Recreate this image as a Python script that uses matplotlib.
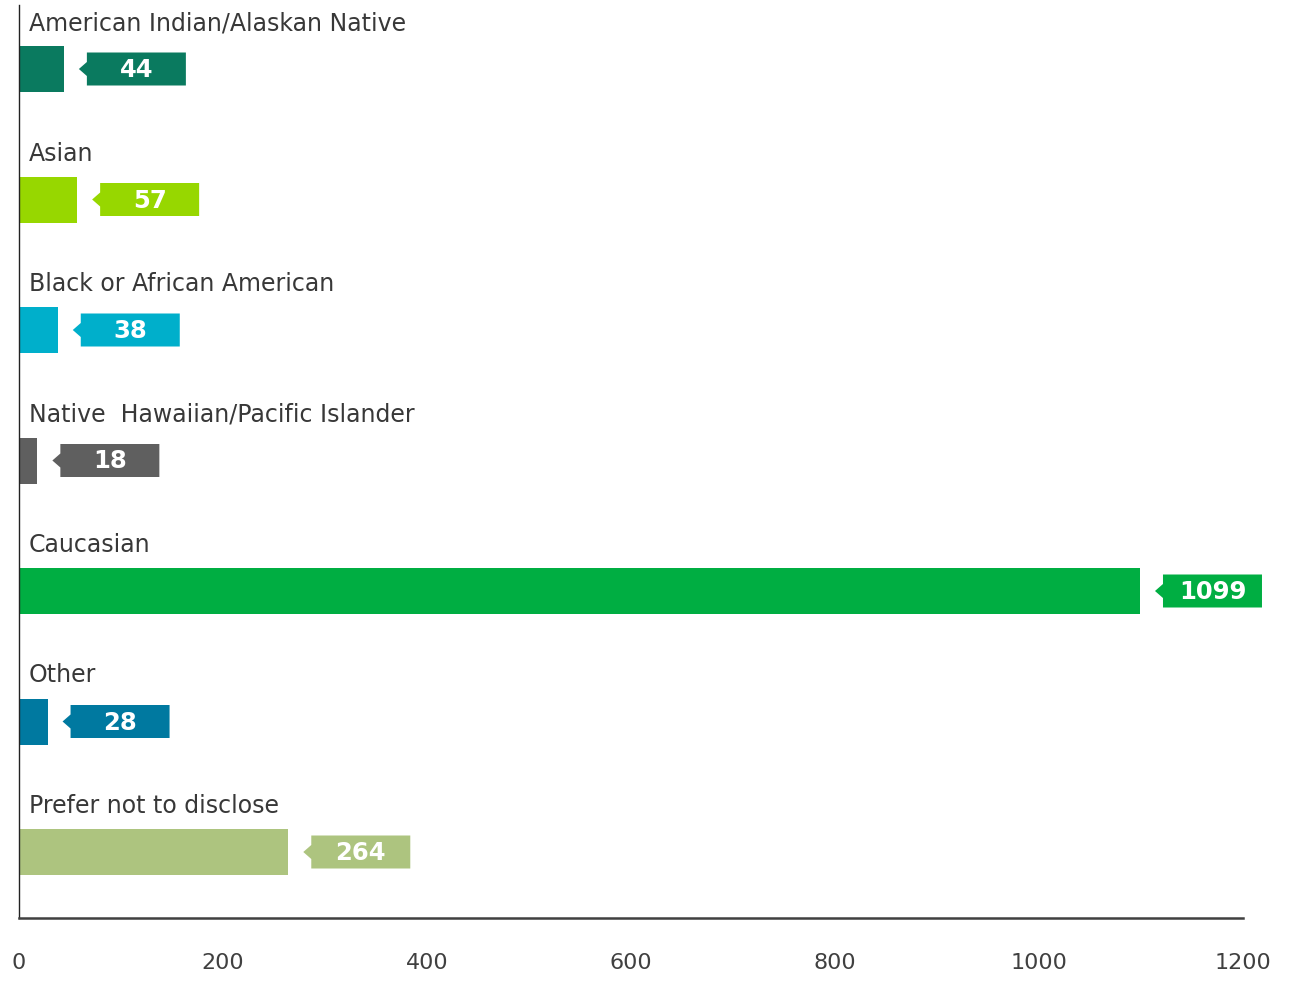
import matplotlib
matplotlib.use("Agg")
import matplotlib.pyplot as plt
from matplotlib.patches import Polygon

categories = ["American Indian/Alaskan Native", "Asian", "Black or African American",
              "Native  Hawaiian/Pacific Islander", "Caucasian", "Other", "Prefer not to disclose"]
values = [44, 57, 38, 18, 1099, 28, 264]
colors = ["#0a7a5f", "#97d700", "#00afcb", "#5f5f5f", "#00ae42", "#0079a0", "#adc47f"]
xticks = [0, 200, 400, 600, 800, 1000, 1200]

W, H = 1290, 981
fig = plt.figure(figsize=(W / 100, H / 100), dpi=100)
ax_l, ax_r, ax_t, ax_b = 19, 1243, 5, 918
ax = fig.add_axes([ax_l / W, 1 - ax_b / H, (ax_r - ax_l) / W, (ax_b - ax_t) / H])

step_px = 130.5
first_center_px = 69 - ax_t
ytop = -first_center_px / step_px
ybot = (ax_b - ax_t - first_center_px) / step_px
ax.set_xlim(0, 1200)
ax.set_ylim(ybot, ytop)

px_x = 1200 / (ax_r - ax_l)           # data units per pixel (x)
px_y = (ybot - ytop) / (ax_b - ax_t)  # data units per pixel (y)

bar_h = 46 * px_y
pos = list(range(len(values)))
ax.barh(pos, values, height=bar_h, color=colors, edgecolor="none")

for i, (cat, v, c) in enumerate(zip(categories, values, colors)):
    # category label above bar
    ax.annotate(cat, xy=(0, i - bar_h / 2), xytext=(10, 11), textcoords="offset pixels",
                ha="left", va="bottom", fontsize=17, color="#383838")
    # callout tag
    tip = v + 15 * px_x
    bl = v + 23 * px_x
    br = v + 122 * px_x
    hh = 16.5 * px_y
    th = 7 * px_y
    verts = [(bl, i - hh), (br, i - hh), (br, i + hh), (bl, i + hh),
             (bl, i + th), (tip, i), (bl, i - th)]
    ax.add_patch(Polygon(verts, closed=True, facecolor=c, edgecolor="none", clip_on=False))
    ax.text((bl + br) / 2, i + 1 * px_y, str(v), ha="center", va="center",
            fontsize=17.5, fontweight="bold", color="white", clip_on=False)

for s in ["top", "right"]:
    ax.spines[s].set_visible(False)
ax.spines["left"].set_color("#222222")
ax.spines["left"].set_linewidth(1.0)
ax.spines["bottom"].set_color("#404040")
ax.spines["bottom"].set_linewidth(1.8)
ax.set_yticks([])
ax.set_xticks(xticks)
ax.set_xticklabels([str(t) for t in xticks])
ax.tick_params(axis="x", length=0, pad=25, labelsize=16, labelcolor="#404040")

fig.savefig("out.png", dpi=100)
